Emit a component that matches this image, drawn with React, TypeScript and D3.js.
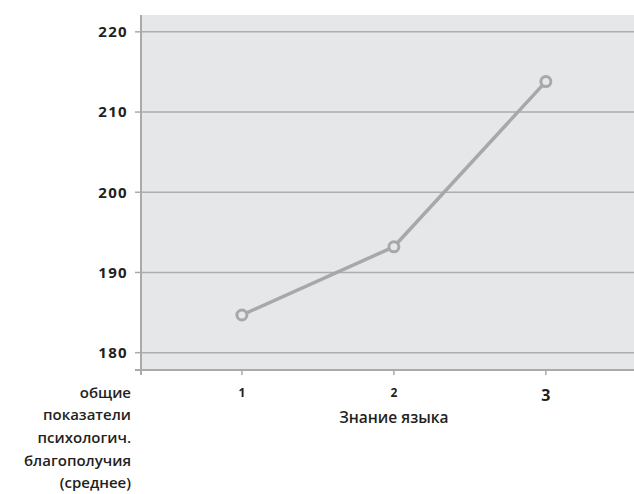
import React from "react";
import * as d3 from "d3";

const categories = [1, 2, 3];
const values = [184.7, 193.2, 213.8];
const yTicks = [180, 190, 200, 210, 220];
const yTitleLines = ["общие", "показатели", "психологич.", "благополучия", "(среднее)"];
const xTitle = "Знание языка";

const W = 634;
const H = 494;
const left = 141;
const top = 15;
const right = 634;
const bottom = 370;

export default function App() {
  const x = d3.scaleLinear().domain([0.336, 3.58]).range([left, right]);
  const y = d3.scaleLinear().domain([177.84, 222.1]).range([bottom, top]);
  const line = d3
    .line<number>()
    .x((_, i) => x(categories[i]))
    .y((d) => y(d));
  const axisColor = "#aaaaab";
  const textColor = "#231f20";
  const font = "'Open Sans', 'DejaVu Sans', sans-serif";
  return (
    <svg
      width={W}
      height={H}
      style={{ position: "absolute", left: 0, top: 0, background: "#fff" }}
    >
      <rect x={left} y={top} width={right - left} height={bottom - top} fill="#e6e7e8" />
      {yTicks.map((t) => (
        <g key={t}>
          <line x1={left} x2={right} y1={y(t)} y2={y(t)} stroke="#acadaf" strokeWidth={1.5} />
          <line x1={left - 6} x2={left} y1={y(t)} y2={y(t)} stroke={axisColor} strokeWidth={1.5} />
          <text
            x={128}
            y={y(t)}
            dy="0.35em"
            textAnchor="end"
            fontFamily={font}
            fontWeight={700}
            fontSize={15}
            letterSpacing={1.3}
            fill={textColor}
          >
            {t}
          </text>
        </g>
      ))}
      <line x1={left - 6} x2={right} y1={bottom} y2={bottom} stroke={axisColor} strokeWidth={2} />
      <line x1={left} x2={left} y1={top} y2={bottom + 5} stroke={axisColor} strokeWidth={2} />
      {categories.map((c) => (
        <g key={c}>
          <line x1={x(c)} x2={x(c)} y1={bottom} y2={bottom + 5} stroke={axisColor} strokeWidth={1.5} />
          <text
            x={x(c)}
            y={c === 3 ? 395 : 393}
            dy="0.35em"
            textAnchor="middle"
            fontFamily={font}
            fontWeight={700}
            fontSize={c === 3 ? 16 : 12}
            fill={textColor}
          >
            {c}
          </text>
        </g>
      ))}
      <text
        x={x(2)}
        y={418}
        dy="0.35em"
        textAnchor="middle"
        fontFamily={font}
        fontWeight={600}
        fontSize={15.5}
        fill={textColor}
      >
        {xTitle}
      </text>
      {yTitleLines.map((s, i) => (
        <text
          key={s}
          x={131}
          y={392.5 + i * 22.6}
          dy="0.35em"
          textAnchor="end"
          fontFamily={font}
          fontWeight={600}
          fontSize={15}
          fill={textColor}
        >
          {s}
        </text>
      ))}
      <path d={line(values) || ""} fill="none" stroke="#a7a8aa" strokeWidth={3.5} />
      {values.map((v, i) => (
        <circle
          key={i}
          cx={x(categories[i])}
          cy={y(v)}
          r={5}
          fill="#e6e7e8"
          stroke="#a7a8aa"
          strokeWidth={3}
        />
      ))}
    </svg>
  );
}
